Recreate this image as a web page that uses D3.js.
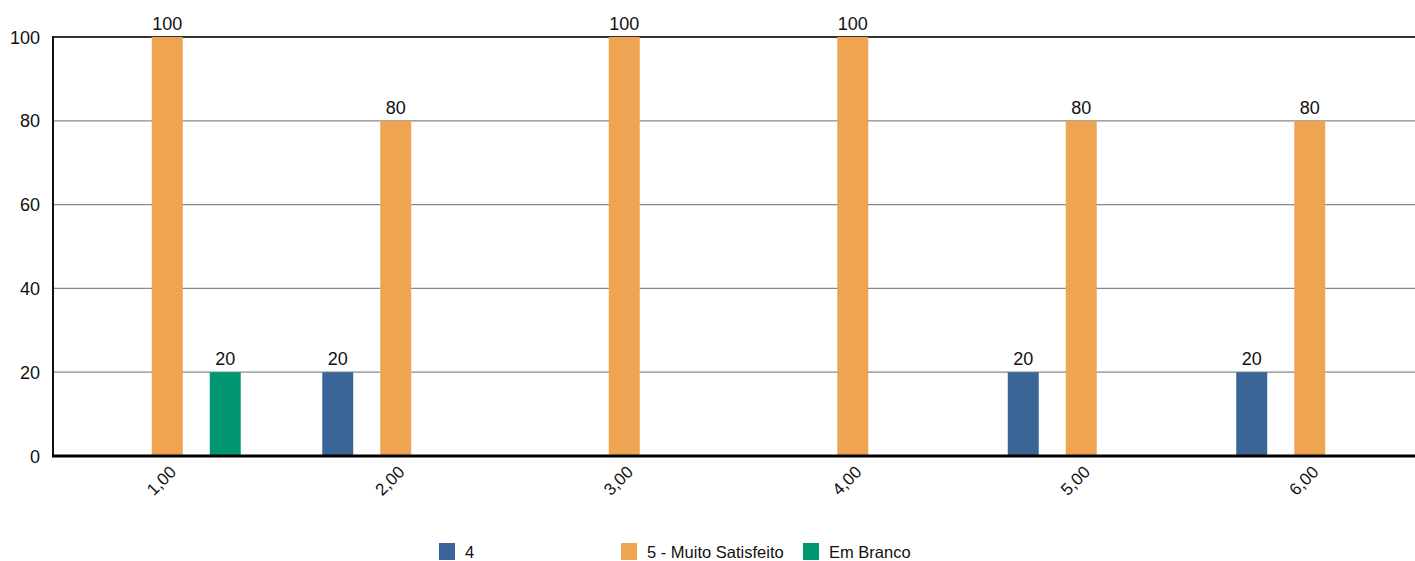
<!DOCTYPE html>
<html><head><meta charset="utf-8">
<script src="https://cdn.jsdelivr.net/npm/d3@7"></script>
<style>body{margin:0;background:#fff;overflow:hidden}svg{display:block;font-family:"Liberation Sans",Arial,sans-serif}</style>
</head><body>
<svg id="c" width="1415" height="561"></svg>
<script>
const categories = ["1,00","2,00","3,00","4,00","5,00","6,00"];
const seriesNames = ["4","5 - Muito Satisfeito","Em Branco"];
const s4 = [0,20,0,0,20,20];
const s5 = [100,80,100,100,80,80];
const sBranco = [20,0,0,0,0,0];
const colors = ["#3a6596","#efa452","#009672"];
const yTicks = [0,20,40,60,80,100];

(function(){
const seriesVals = [s4,s5,sBranco];
const svg = d3.select("#c");
const pL = 53, pR = 1424, pT = 37, pB = 456;
const x0 = d3.scaleBand().domain(categories).range([pL,pR]).padding(0);
const bw = x0.bandwidth();
const x1 = d3.scaleBand().domain(seriesNames).range([bw/2-87, bw/2+87]).paddingInner(0.466).paddingOuter(0.233);
const y = d3.scaleLinear().domain([0,100]).range([pB,pT]);

// gridlines
svg.append("g").selectAll("line").data(yTicks.filter(t=>t>0)).join("line")
  .attr("x1",pL).attr("x2",1415).attr("y1",d=>y(d)).attr("y2",d=>y(d))
  .attr("stroke",d=>d===100?"#333":"#888").attr("stroke-width",d=>d===100?2:1.3);

// y labels
svg.append("g").selectAll("text").data(yTicks).join("text")
  .attr("x",40).attr("y",d=>y(d)+6.5).attr("text-anchor","end")
  .attr("font-size",18).attr("fill","#111").text(d=>d);

// bars
const data = [];
categories.forEach((c,i)=>seriesNames.forEach((s,j)=>{ if(seriesVals[j][i]>0) data.push({c,s,j,v:seriesVals[j][i]}); }));
svg.append("g").selectAll("rect").data(data).join("rect")
  .attr("x",d=>x0(d.c)+x1(d.s)).attr("width",x1.bandwidth())
  .attr("y",d=>y(d.v)).attr("height",d=>y(0)-y(d.v)).attr("fill",d=>colors[d.j]);
svg.append("g").selectAll("text").data(data).join("text")
  .attr("x",d=>x0(d.c)+x1(d.s)+x1.bandwidth()/2).attr("y",d=>y(d.v)-7)
  .attr("text-anchor","middle").attr("font-size",18).attr("fill","#111").text(d=>d.v);

// axes lines
svg.append("line").attr("x1",pL).attr("x2",pL).attr("y1",pT-1).attr("y2",pB+1).attr("stroke","#111").attr("stroke-width",2);
svg.append("line").attr("x1",pL-1).attr("x2",1415).attr("y1",pB).attr("y2",pB).attr("stroke","#000").attr("stroke-width",3);

// x labels
svg.append("g").selectAll("text").data(categories).join("text")
  .attr("transform",d=>`translate(${x0(d)+bw/2+10},${pB+17}) rotate(-45)`)
  .attr("text-anchor","end").attr("font-size",17).attr("fill","#111").text(d=>d);

// legend
const legX = [439,621,803];
const lg = svg.append("g").selectAll("g").data(seriesNames).join("g")
  .attr("transform",(d,i)=>`translate(${legX[i]},543)`);
lg.append("rect").attr("width",16).attr("height",17).attr("fill",(d,i)=>colors[i]);
lg.append("text").attr("x",26).attr("y",14.5).attr("font-size",16.5).attr("fill","#111").text(d=>d);
})();
</script>
</body></html>
